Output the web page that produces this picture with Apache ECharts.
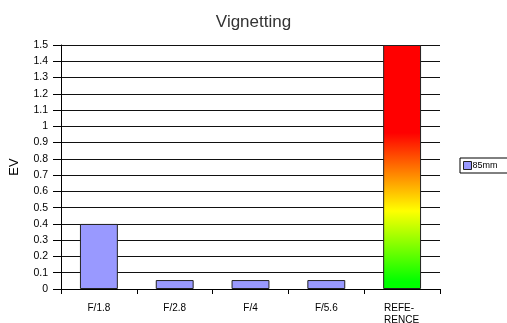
<!DOCTYPE html>
<html>
<head>
<meta charset="utf-8">
<script src="https://cdn.jsdelivr.net/npm/echarts@6/dist/echarts.min.js"></script>
<style>html,body{margin:0;padding:0;background:#fff}#c{width:507px;height:323px}</style>
</head>
<body>
<div id="c"></div>
<script>
var categories = ['F/1.8', 'F/2.8', 'F/4', 'F/5.6', 'REFE-\nRENCE'];
var values85mm = [0.4, 0.055, 0.055, 0.055, 1.5];
var seriesName = '85mm';
var chartTitle = 'Vignetting';
var yAxisName = 'EV';

var chart = echarts.init(document.getElementById('c'));
var refGradient = new echarts.graphic.LinearGradient(0, 0, 0, 1, [
  {offset: 0, color: '#ff0000'},
  {offset: 0.36, color: '#ff0000'},
  {offset: 0.68, color: '#ffff00'},
  {offset: 0.97, color: '#00ff00'},
  {offset: 1, color: '#00ff00'}
]);
var data = values85mm.map(function (v, i) {
  if (i === values85mm.length - 1) {
    return {value: v, itemStyle: {color: refGradient}};
  }
  return v;
});
chart.setOption({
  animation: false,
  title: {
    text: chartTitle, left: 'center', top: 9,
    textStyle: {fontFamily: 'Liberation Sans', fontSize: 17, fontWeight: 'normal', color: '#333'}
  },
  legend: {
    data: [seriesName], left: 460, top: 158,
    orient: 'vertical',
    icon: 'rect',
    itemWidth: 8, itemHeight: 8, itemGap: 2,
    padding: [3, 14, 3, 3],
    borderColor: '#000', borderWidth: 1,
    textStyle: {fontFamily: 'Liberation Sans', fontSize: 9, color: '#000', padding: [0, 0, 0, -4]},
    itemStyle: {borderColor: '#222', borderWidth: 1}
  },
  grid: {left: 61, right: 67, top: 45, bottom: 34, containLabel: false, outerBoundsMode: 'none'},
  xAxis: {
    type: 'category', data: categories,
    axisLine: {lineStyle: {color: '#000', width: 1}},
    axisTick: {show: true, length: 5, lineStyle: {color: '#000'}},
    axisLabel: {
      fontFamily: 'Liberation Sans', fontSize: 10, color: '#000', margin: 13, lineHeight: 12, interval: 0,
      formatter: function (v) {
        if (v.indexOf('\n') >= 0) {
          return v.split('\n').map(function (s) { return '{l|' + s + '}'; }).join('\n');
        }
        return v;
      },
      rich: {l: {fontFamily: 'Liberation Sans', fontSize: 10, color: '#000', width: 36, align: 'left', lineHeight: 12}}
    },
    splitLine: {show: false}
  },
  yAxis: {
    type: 'value', min: 0, max: 1.5, interval: 0.1,
    name: yAxisName, nameLocation: 'middle', nameGap: 40, nameRotate: 90,
    nameTextStyle: {fontFamily: 'Liberation Sans', fontSize: 13, color: '#000'},
    axisLine: {show: true, lineStyle: {color: '#000', width: 1}},
    axisTick: {show: true, length: 8, lineStyle: {color: '#000'}},
    axisLabel: {
      fontFamily: 'Liberation Sans', fontSize: 10.5, color: '#000', margin: 13,
      formatter: function (v) { return String(Math.round(v * 10) / 10); }
    },
    splitLine: {show: true, lineStyle: {color: '#111', width: 1}}
  },
  series: [{
    name: seriesName, type: 'bar', data: data, barWidth: '50%',
    itemStyle: {color: '#9999ff', borderColor: '#222', borderWidth: 1}
  }]
});
</script>
</body>
</html>
